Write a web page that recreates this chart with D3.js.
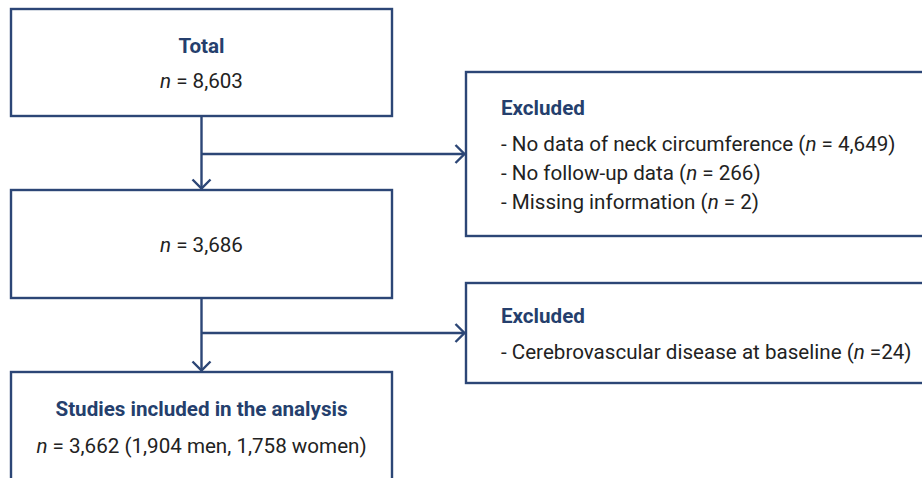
<!DOCTYPE html>
<html>
<head>
<meta charset="utf-8">
<script src="https://cdn.jsdelivr.net/npm/d3@7"></script>
<style>
	body { margin:0; background:#fff; }
	svg { display:block; }
	.box { fill:#fff; stroke:#2c4676; stroke-width:2.4; }
	.link { fill:none; stroke:#2c4676; stroke-width:2.4; }
	.head { font-family:Roboto, sans-serif; font-weight:700; fill:#253f6d; font-size:20.6px; }
	.body { font-family:Roboto, sans-serif; fill:#222; font-size:20.6px; }
</style>
</head>
<body>
<svg id="chart" width="922" height="478"></svg>
<script>
// text content of each box
var totalHead = "Total";
var totalCount = "8,603";
var afterFirstCount = "3,686";
var excludedHead = "Excluded";
var excludedFirst = [
	["No data of neck circumference", "4,649", " = "],
	["No follow-up data", "266", " = "],
	["Missing information", "2", " = "]
];
var excludedSecond = [
	["Cerebrovascular disease at baseline", "24", " ="]
];
var finalHead = "Studies included in the analysis";
var finalCount = "3,662";
var finalDetail = " (1,904 men, 1,758 women)";

var svg = d3.select("#chart");

// layout
var col = { x0: 11, x1: 392 };
var side = { x0: 466, x1: 940, textX: 501 };
var mainBoxes = [
	{ id: "total", y0: 9, y1: 116 },
	{ id: "mid", y0: 190, y1: 298 },
	{ id: "final", y0: 372, y1: 500 }
];
var sideBoxes = [
	{ id: "ex1", y0: 72, y1: 236 },
	{ id: "ex2", y0: 283, y1: 383 }
];
var cx = (col.x0 + col.x1) / 2;

var boxes = svg.append("g").attr("class","boxes");
boxes.selectAll("rect.main")
	.data(mainBoxes).enter().append("rect")
	.attr("class","box main")
	.attr("x", col.x0).attr("y", function(d){ return d.y0; })
	.attr("width", col.x1 - col.x0)
	.attr("height", function(d){ return d.y1 - d.y0; });
boxes.selectAll("rect.side")
	.data(sideBoxes).enter().append("rect")
	.attr("class","box side")
	.attr("x", side.x0).attr("y", function(d){ return d.y0; })
	.attr("width", side.x1 - side.x0)
	.attr("height", function(d){ return d.y1 - d.y0; });

// connectors: down arrow between main boxes, branch to side box
var links = [
	{ from: mainBoxes[0], to: mainBoxes[1], branchY: 154 },
	{ from: mainBoxes[1], to: mainBoxes[2], branchY: 333 }
];
var ah = 9; // chevron size
var lg = svg.append("g").attr("class","links");
links.forEach(function(l){
	lg.append("path").attr("class","link")
		.attr("d", "M"+cx+","+l.from.y1+"V"+(l.to.y0-1.5));
	lg.append("path").attr("class","link")
		.attr("d", "M"+(cx-ah)+","+(l.to.y0-ah-1.5)+"L"+cx+","+(l.to.y0-1.5)+"L"+(cx+ah)+","+(l.to.y0-ah-1.5));
	lg.append("path").attr("class","link")
		.attr("d", "M"+cx+","+l.branchY+"H"+(side.x0-1.5));
	lg.append("path").attr("class","link")
		.attr("d", "M"+(side.x0-ah-1.5)+","+(l.branchY-ah)+"L"+(side.x0-1.5)+","+l.branchY+"L"+(side.x0-ah-1.5)+","+(l.branchY+ah));
});

// helper: "n = value" line with italic n
function countLine(g, x, y, anchor, value, eq, tail){
	var t = g.append("text").attr("class","body")
		.attr("x", x).attr("y", y).attr("text-anchor", anchor);
	t.append("tspan").style("font-style","italic").text("n");
	t.append("tspan").text((eq || " = ") + value + (tail || ""));
	return t;
}

var tg = svg.append("g").attr("class","labels");
tg.append("text").attr("class","head").attr("x", cx).attr("y", 52.5)
	.attr("text-anchor","middle").text(totalHead);
countLine(tg, cx, 88, "middle", totalCount);

countLine(tg, cx, 251.5, "middle", afterFirstCount);

tg.append("text").attr("class","head").attr("x", cx).attr("y", 416)
	.attr("text-anchor","middle").text(finalHead);
countLine(tg, cx, 452.5, "middle", finalCount, " = ", finalDetail);

function excludedList(y0, items){
	tg.append("text").attr("class","head").attr("x", side.textX).attr("y", y0).text(excludedHead);
	items.forEach(function(d, i){
		var t = tg.append("text").attr("class","body")
			.attr("x", side.textX).attr("y", y0 + 36 + i*29);
		t.append("tspan").text("- " + d[0] + " (");
		t.append("tspan").style("font-style","italic").text("n");
		t.append("tspan").text(d[2] + d[1] + ")");
	});
}
excludedList(115, excludedFirst);
excludedList(323, excludedSecond);
</script>
</body>
</html>
